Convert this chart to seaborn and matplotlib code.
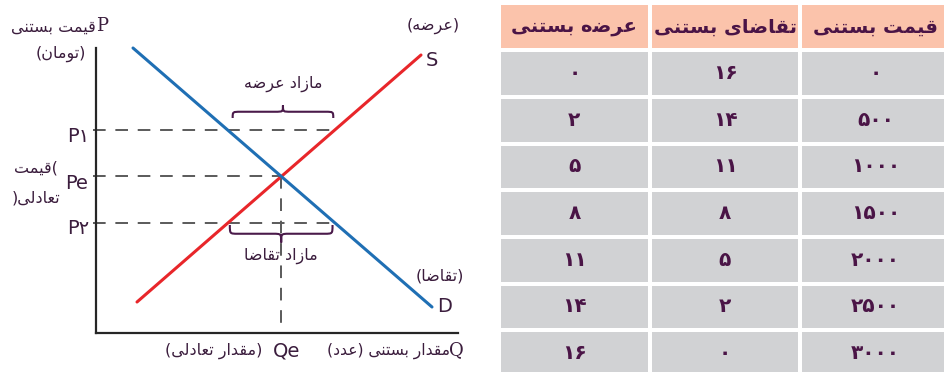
import numpy as np
import matplotlib
matplotlib.use("Agg")
import matplotlib.pyplot as plt
import seaborn as sns
from matplotlib.colors import ListedColormap
from matplotlib.path import Path
from matplotlib.patches import PathPatch
from matplotlib import font_manager
from matplotlib.ft2font import FT2Font

# ---------------- data ----------------
price_col = ["۰", "۵۰۰", "۱۰۰۰", "۱۵۰۰", "۲۰۰۰", "۲۵۰۰", "۳۰۰۰"]
demand_col = ["۱۶", "۱۴", "۱۱", "۸", "۵", "۲", "۰"]
supply_col = ["۰", "۲", "۵", "۸", "۱۱", "۱۴", "۱۶"]
headers = ["عرضۀ بستنی", "تقاضای بستنی", "قیمت بستنی"]   # columns left -> right

# schematic supply / demand diagram (quantity, price) in chart units
supply_q = [4.1, 32.5]
supply_p = [3.1, 27.8]
demand_q = [3.7, 33.6]
demand_p = [28.5, 2.6]
p_high = 20.3   # P1
p_low = 11.0    # P2

# ---------------- Persian shaping helpers ----------------
def charmap(weight):
    path = font_manager.findfont(font_manager.FontProperties(family="DejaVu Sans", weight=weight))
    try:
        return set(FT2Font(path).get_charmap().keys())
    except Exception:
        return set()

CM_REG = charmap("normal")
CM_BOLD = charmap("bold")

# iso, fin, ini, med (ini/med None for right-joining letters)
FORMS = {
    'ا': (0xFE8D, 0xFE8E, None, None), 'آ': (0xFE81, 0xFE82, None, None),
    'د': (0xFEA9, 0xFEAA, None, None), 'ذ': (0xFEAB, 0xFEAC, None, None),
    'ر': (0xFEAD, 0xFEAE, None, None), 'ز': (0xFEAF, 0xFEB0, None, None),
    'ژ': (0xFB8A, 0xFB8B, None, None), 'و': (0xFEED, 0xFEEE, None, None),
    'ۀ': (0xFBA4, 0xFBA5, None, None),
    'ب': (0xFE8F, 0xFE90, 0xFE91, 0xFE92), 'پ': (0xFB56, 0xFB57, 0xFB58, 0xFB59),
    'ت': (0xFE95, 0xFE96, 0xFE97, 0xFE98), 'ث': (0xFE99, 0xFE9A, 0xFE9B, 0xFE9C),
    'ج': (0xFE9D, 0xFE9E, 0xFE9F, 0xFEA0), 'چ': (0xFB7A, 0xFB7B, 0xFB7C, 0xFB7D),
    'ح': (0xFEA1, 0xFEA2, 0xFEA3, 0xFEA4), 'خ': (0xFEA5, 0xFEA6, 0xFEA7, 0xFEA8),
    'س': (0xFEB1, 0xFEB2, 0xFEB3, 0xFEB4), 'ش': (0xFEB5, 0xFEB6, 0xFEB7, 0xFEB8),
    'ص': (0xFEB9, 0xFEBA, 0xFEBB, 0xFEBC), 'ض': (0xFEBD, 0xFEBE, 0xFEBF, 0xFEC0),
    'ط': (0xFEC1, 0xFEC2, 0xFEC3, 0xFEC4), 'ظ': (0xFEC5, 0xFEC6, 0xFEC7, 0xFEC8),
    'ع': (0xFEC9, 0xFECA, 0xFECB, 0xFECC), 'غ': (0xFECD, 0xFECE, 0xFECF, 0xFED0),
    'ف': (0xFED1, 0xFED2, 0xFED3, 0xFED4), 'ق': (0xFED5, 0xFED6, 0xFED7, 0xFED8),
    'ک': (0xFB8E, 0xFB8F, 0xFB90, 0xFB91), 'گ': (0xFB92, 0xFB93, 0xFB94, 0xFB95),
    'ل': (0xFEDD, 0xFEDE, 0xFEDF, 0xFEE0), 'م': (0xFEE1, 0xFEE2, 0xFEE3, 0xFEE4),
    'ن': (0xFEE5, 0xFEE6, 0xFEE7, 0xFEE8), 'ه': (0xFEE9, 0xFEEA, 0xFEEB, 0xFEEC),
    'ی': (0xFBFC, 0xFBFD, 0xFBFE, 0xFBFF), 'ي': (0xFEF1, 0xFEF2, 0xFEF3, 0xFEF4),
}


def rtl(text, cmap=CM_REG):
    chars = list(text)
    out = []
    for i, c in enumerate(chars):
        if c not in FORMS:
            out.append(c)
            continue
        prev = chars[i - 1] if i > 0 else None
        nxt = chars[i + 1] if i + 1 < len(chars) else None
        pj = prev in FORMS and FORMS[prev][2] is not None
        nj = nxt in FORMS and FORMS[c][2] is not None
        f = FORMS[c]
        if pj and nj:
            cp = f[3]
        elif pj:
            cp = f[1]
        elif nj:
            cp = f[2]
        else:
            cp = f[0]
        if cp in cmap:
            out.append(chr(cp))
        elif c == 'ۀ':
            out.append('ه')
        else:
            out.append(c)
    vis = ''.join(reversed(out))
    return vis.translate(str.maketrans('()', ')('))


# ---------------- figure ----------------
sns.set_style("white")
plt.rcParams['font.family'] = ['DejaVu Sans']
W, H = 944, 372
fig = plt.figure(figsize=(W / 100, H / 100), dpi=100)

TXT = "#3b1d3d"
TAB_TXT = "#4a1446"

# ---- table (heatmap of cell kinds) ----
n_rows = 1 + len(price_col)
kind = np.ones((n_rows, 3))
kind[0, :] = 0
annot = np.empty((n_rows, 3), dtype=object)
annot[0, :] = [rtl(h, CM_BOLD) for h in headers]
for i in range(len(price_col)):
    annot[i + 1, :] = [supply_col[i], demand_col[i], price_col[i]]

tab_ax = fig.add_axes([499 / W, 1 - 377 / H, (951 - 499) / W, (377 - 3.5) / H])
sns.heatmap(kind, ax=tab_ax, cmap=ListedColormap(["#fbc3ab", "#d1d2d4"]), vmin=0, vmax=1,
            cbar=False, linewidths=1.6, linecolor="white", annot=annot, fmt="",
            annot_kws=dict(fontsize=14.5, fontweight="bold", color=TAB_TXT),
            xticklabels=False, yticklabels=False)
for t in tab_ax.texts[:3]:
    t.set_fontsize(14)
tab_ax.tick_params(left=False, bottom=False)

# ---- diagram ----
ax = fig.add_axes([96 / W, 1 - 333 / H, (458 - 96) / W, (333 - 48) / H])
ax.set_xlim(0, 36.2)
ax.set_ylim(0, 28.5)
ax.set_xticks([])
ax.set_yticks([])
for s in ["top", "right"]:
    ax.spines[s].set_visible(False)
for s in ["left", "bottom"]:
    ax.spines[s].set_color("#262626")
    ax.spines[s].set_linewidth(1.6)
ax.patch.set_alpha(0)

# equilibrium from line intersection
sq, sp = np.array(supply_q), np.array(supply_p)
dq, dp = np.array(demand_q), np.array(demand_p)
ms = (sp[1] - sp[0]) / (sq[1] - sq[0])
md = (dp[1] - dp[0]) / (dq[1] - dq[0])
q_e = (dp[0] - sp[0] + ms * sq[0] - md * dq[0]) / (ms - md)
p_e = sp[0] + ms * (q_e - sq[0])


def q_on(p, qs, ps):
    order = np.argsort(ps)
    return float(np.interp(p, np.array(ps)[order], np.array(qs)[order]))


dash_kw = dict(color="#5a5a5a", lw=1.4, dashes=(6.5, 5), zorder=1, clip_on=False)
ax.plot([-0.35, q_on(p_high, supply_q, supply_p)], [p_high, p_high], **dash_kw)
ax.plot([-0.35, q_e], [p_e, p_e], **dash_kw)
ax.plot([-0.35, q_on(p_low, demand_q, demand_p)], [p_low, p_low], **dash_kw)
ax.plot([q_e, q_e], [p_e, 0], **dash_kw)

sns.lineplot(x=supply_q, y=supply_p, ax=ax, color="#e8262a", lw=2.2, clip_on=False, zorder=3)
sns.lineplot(x=demand_q, y=demand_p, ax=ax, color="#1f6fb4", lw=2.2, clip_on=False, zorder=3)


def brace(x0, x1, y, h, r=0.8):
    xm = (x0 + x1) / 2
    ym = y + h / 2
    verts = [(x0, y), (x0, ym), (x0, ym), (x0 + r, ym),
             (xm - r, ym), (xm, ym), (xm, ym), (xm, y + h),
             (xm, ym), (xm, ym), (xm + r, ym),
             (x1 - r, ym), (x1, ym), (x1, ym), (x1, y)]
    codes = [Path.MOVETO, Path.CURVE4, Path.CURVE4, Path.CURVE4,
             Path.LINETO, Path.CURVE4, Path.CURVE4, Path.CURVE4,
             Path.CURVE4, Path.CURVE4, Path.CURVE4,
             Path.LINETO, Path.CURVE4, Path.CURVE4, Path.CURVE4]
    ax.add_patch(PathPatch(Path(verts, codes), fill=False, ec="#4a1a4a", lw=1.5,
                           clip_on=False, zorder=2))


qa = q_on(p_high, demand_q, demand_p) + 0.5
qb = q_on(p_high, supply_q, supply_p) - 0.15
brace(qa, qb, p_high + 1.2, 1.25)
qa2 = q_on(p_low, supply_q, supply_p) + 0.2
qb2 = q_on(p_low, demand_q, demand_p) - 0.25
brace(qa2, qb2, p_low - 0.2, -1.75)

LAB = 14
FA = 11.5
tkw = dict(color=TXT, clip_on=False)
ax.text(-0.7, p_high - 0.65, "P۱", ha="right", va="center", fontsize=LAB, **tkw)
ax.text(-0.8, p_e - 0.7, "Pe", ha="right", va="center", fontsize=LAB, **tkw)
ax.text(-0.7, p_low - 0.6, "P۲", ha="right", va="center", fontsize=LAB, **tkw)
ax.text(-3.8, p_e + 0.85, rtl("قیمت") + "(", ha="right", va="center", fontsize=FA, **tkw)
ax.text(-3.6, p_e - 2.2, ")" + rtl("تعادلی"), ha="right", va="center", fontsize=FA, **tkw)

ax.text(q_e + 0.55, -1.8, "Qe", ha="center", va="center", fontsize=LAB, **tkw)
ax.text(16.6, -1.8, rtl("(مقدار تعادلی)"), ha="right", va="center", fontsize=FA, **tkw)
ax.text(36.8, -1.75, "Q", ha="right", va="center", fontsize=LAB - 1, family="DejaVu Serif", **tkw)
ax.text(35.4, -1.8, rtl("مقدار بستنی (عدد)"), ha="right", va="center", fontsize=FA - 0.3, **tkw)

ax.text(0.05, 30.7, "P", ha="left", va="center", fontsize=LAB - 1, family="DejaVu Serif", **tkw)
ax.text(0.0, 30.6, rtl("قیمت بستنی"), ha="right", va="center", fontsize=FA, **tkw)
ax.text(-1.0, 27.9, rtl("(تومان)"), ha="right", va="center", fontsize=FA, **tkw)

ax.text(33.75, 30.7, rtl("(عرضه)"), ha="center", va="center", fontsize=FA, **tkw)
ax.text(33.0, 27.3, "S", ha="left", va="center", fontsize=LAB, **tkw)
ax.text(34.35, 5.7, rtl("(تقاضا)"), ha="center", va="center", fontsize=FA, **tkw)
ax.text(34.1, 2.7, "D", ha="left", va="center", fontsize=LAB, **tkw)

ax.text((qa + qb) / 2, 24.9, rtl("مازاد عرضه"), ha="center", va="center", fontsize=FA, **tkw)
ax.text((qa2 + qb2) / 2, 7.7, rtl("مازاد تقاضا"), ha="center", va="center", fontsize=FA, **tkw)

fig.savefig("out.png", dpi=100)
